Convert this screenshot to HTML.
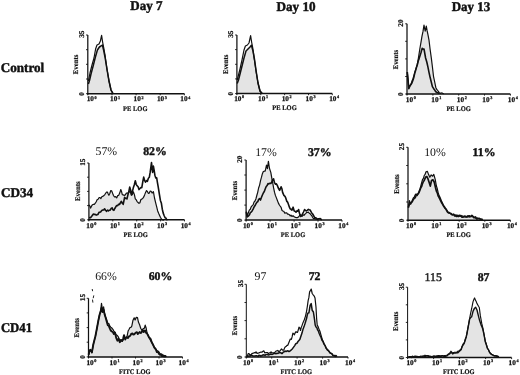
<!DOCTYPE html>
<html><head><meta charset="utf-8"><title>Flow cytometry</title>
<style>
html,body{margin:0;padding:0;background:#fff;}
body{width:520px;height:375px;overflow:hidden;font-family:"Liberation Serif",serif;}
svg{display:block;filter:blur(0.35px);}
text{fill:#111;text-rendering:geometricPrecision;}
</style></head><body>
<svg width="520" height="375" viewBox="0 0 520 375">
<rect width="520" height="375" fill="#fff"/>
<path d="M88.4 84.0 L89.5 80.5 L91.0 74.0 L93.4 65.0 L95.4 57.0 L97.4 50.0 L99.4 47.0 L101.0 46.0 L102.4 45.0 L103.6 50.0 L105.0 57.0 L107.0 69.5 L109.0 81.0 L111.0 90.0 L113.0 93.6 L113.0 93.7 L88.4 93.7Z" fill="#e4e4e4" stroke="none"/>
<path d="M88.4 84.0 L89.5 80.5 L91.0 74.0 L93.4 65.0 L95.4 57.0 L97.4 50.0 L99.4 47.0 L101.0 46.0 L102.4 45.0 L103.6 50.0 L105.0 57.0 L107.0 69.5 L109.0 81.0 L111.0 90.0 L113.0 93.6" fill="none" stroke="#111" stroke-width="1.5" stroke-linejoin="round"/>
<path d="M88.4 81.0 L90.0 73.0 L92.0 65.0 L94.0 58.0 L95.6 49.0 L97.0 45.0 L99.0 44.0 L100.4 41.0 L101.6 35.4 L102.6 42.0 L103.6 47.0 L105.0 55.0 L107.0 69.0 L109.0 81.0 L111.0 90.0 L113.0 93.6" fill="none" stroke="#111" stroke-width="1.2" stroke-linejoin="round"/>
<path d="M87.8 35 L87.8 94.4" fill="none" stroke="#111" stroke-width="1.25"/>
<path d="M87.2 93.7 L184.4 93.7" fill="none" stroke="#111" stroke-width="1.5"/>
<path d="M86.0 93.7 L87.8 93.7" stroke="#111" stroke-width="0.9"/>
<path d="M86.0 79.0 L87.8 79.0" stroke="#111" stroke-width="0.9"/>
<path d="M86.0 64.3 L87.8 64.3" stroke="#111" stroke-width="0.9"/>
<path d="M86.0 49.7 L87.8 49.7" stroke="#111" stroke-width="0.9"/>
<path d="M86.0 35.0 L87.8 35.0" stroke="#111" stroke-width="0.9"/>
<path d="M87.8 93.7 L87.8 95.3" stroke="#111" stroke-width="0.9"/>
<text x="86.7" y="101.4" font-size="7.3" font-weight="bold" text-anchor="start" font-family="'Liberation Serif', serif" stroke="#111" stroke-width="0.25">10<tspan font-size="4.2" dy="-2.9" dx="0.6">0</tspan></text>
<path d="M112.0 93.7 L112.0 95.3" stroke="#111" stroke-width="0.9"/>
<text x="110.1" y="101.4" font-size="7.3" font-weight="bold" text-anchor="start" font-family="'Liberation Serif', serif" stroke="#111" stroke-width="0.25">10<tspan font-size="4.2" dy="-2.9" dx="0.6">1</tspan></text>
<path d="M136.1 93.7 L136.1 95.3" stroke="#111" stroke-width="0.9"/>
<text x="133.5" y="101.4" font-size="7.3" font-weight="bold" text-anchor="start" font-family="'Liberation Serif', serif" stroke="#111" stroke-width="0.25">10<tspan font-size="4.2" dy="-2.9" dx="0.6">2</tspan></text>
<path d="M160.2 93.7 L160.2 95.3" stroke="#111" stroke-width="0.9"/>
<text x="156.9" y="101.4" font-size="7.3" font-weight="bold" text-anchor="start" font-family="'Liberation Serif', serif" stroke="#111" stroke-width="0.25">10<tspan font-size="4.2" dy="-2.9" dx="0.6">3</tspan></text>
<path d="M184.4 93.7 L184.4 95.3" stroke="#111" stroke-width="0.9"/>
<text x="180.3" y="101.4" font-size="7.3" font-weight="bold" text-anchor="start" font-family="'Liberation Serif', serif" stroke="#111" stroke-width="0.25">10<tspan font-size="4.2" dy="-2.9" dx="0.6">4</tspan></text>
<text x="135.3" y="110.5" font-size="7.0" font-weight="bold" text-anchor="middle" font-family="'Liberation Serif', serif" textLength="24.4" lengthAdjust="spacingAndGlyphs" stroke="#111" stroke-width="0.2">PE LOG</text>
<text x="78.5" y="64.4" font-size="7.2" font-weight="bold" text-anchor="middle" font-family="'Liberation Serif', serif" transform="rotate(-90 78.5 64.4)" textLength="19.5" lengthAdjust="spacingAndGlyphs" stroke="#111" stroke-width="0.2">Events</text>
<text x="84.0" y="34.2" font-size="7.3" font-weight="bold" text-anchor="middle" font-family="'Liberation Serif', serif" transform="rotate(-90 84.0 34.2)" stroke="#111" stroke-width="0.2">35</text>
<text x="84.0" y="93.8" font-size="7.3" font-weight="bold" text-anchor="middle" font-family="'Liberation Serif', serif" transform="rotate(-90 84.0 93.8)" stroke="#111" stroke-width="0.2">0</text>
<path d="M237.2 83.5 L238.5 80.0 L241.0 70.0 L244.0 58.0 L246.0 51.0 L248.0 49.0 L250.0 47.0 L251.4 45.2 L253.0 51.0 L254.6 60.0 L256.2 71.5 L258.0 83.0 L260.0 91.0 L262.2 93.6 L262.2 93.6 L237.2 93.6Z" fill="#e4e4e4" stroke="none"/>
<path d="M237.2 83.5 L238.5 80.0 L241.0 70.0 L244.0 58.0 L246.0 51.0 L248.0 49.0 L250.0 47.0 L251.4 45.2 L253.0 51.0 L254.6 60.0 L256.2 71.5 L258.0 83.0 L260.0 91.0 L262.2 93.6" fill="none" stroke="#111" stroke-width="1.5" stroke-linejoin="round"/>
<path d="M237.2 80.0 L238.5 75.0 L240.0 69.0 L242.0 60.0 L244.0 50.0 L245.4 46.0 L247.4 45.0 L249.0 43.0 L250.6 35.6 L251.6 42.0 L252.6 47.0 L254.0 57.0 L256.0 71.0 L258.0 83.0 L260.0 91.0 L262.2 93.6" fill="none" stroke="#111" stroke-width="1.2" stroke-linejoin="round"/>
<path d="M236.9 35 L236.9 94.3" fill="none" stroke="#111" stroke-width="1.25"/>
<path d="M236.3 93.6 L332.3 93.6" fill="none" stroke="#111" stroke-width="1.5"/>
<path d="M235.1 93.6 L236.9 93.6" stroke="#111" stroke-width="0.9"/>
<path d="M235.1 78.9 L236.9 78.9" stroke="#111" stroke-width="0.9"/>
<path d="M235.1 64.3 L236.9 64.3" stroke="#111" stroke-width="0.9"/>
<path d="M235.1 49.6 L236.9 49.6" stroke="#111" stroke-width="0.9"/>
<path d="M235.1 35.0 L236.9 35.0" stroke="#111" stroke-width="0.9"/>
<path d="M236.9 93.6 L236.9 95.19999999999999" stroke="#111" stroke-width="0.9"/>
<text x="234.2" y="101.3" font-size="7.3" font-weight="bold" text-anchor="start" font-family="'Liberation Serif', serif" stroke="#111" stroke-width="0.25">10<tspan font-size="4.2" dy="-2.9" dx="0.6">0</tspan></text>
<path d="M260.8 93.6 L260.8 95.19999999999999" stroke="#111" stroke-width="0.9"/>
<text x="258.0" y="101.3" font-size="7.3" font-weight="bold" text-anchor="start" font-family="'Liberation Serif', serif" stroke="#111" stroke-width="0.25">10<tspan font-size="4.2" dy="-2.9" dx="0.6">1</tspan></text>
<path d="M284.6 93.6 L284.6 95.19999999999999" stroke="#111" stroke-width="0.9"/>
<text x="281.7" y="101.3" font-size="7.3" font-weight="bold" text-anchor="start" font-family="'Liberation Serif', serif" stroke="#111" stroke-width="0.25">10<tspan font-size="4.2" dy="-2.9" dx="0.6">2</tspan></text>
<path d="M308.5 93.6 L308.5 95.19999999999999" stroke="#111" stroke-width="0.9"/>
<text x="305.5" y="101.3" font-size="7.3" font-weight="bold" text-anchor="start" font-family="'Liberation Serif', serif" stroke="#111" stroke-width="0.25">10<tspan font-size="4.2" dy="-2.9" dx="0.6">3</tspan></text>
<path d="M332.3 93.6 L332.3 95.19999999999999" stroke="#111" stroke-width="0.9"/>
<text x="329.2" y="101.3" font-size="7.3" font-weight="bold" text-anchor="start" font-family="'Liberation Serif', serif" stroke="#111" stroke-width="0.25">10<tspan font-size="4.2" dy="-2.9" dx="0.6">4</tspan></text>
<text x="284.5" y="110.4" font-size="7.0" font-weight="bold" text-anchor="middle" font-family="'Liberation Serif', serif" textLength="24.4" lengthAdjust="spacingAndGlyphs" stroke="#111" stroke-width="0.2">PE LOG</text>
<text x="227.6" y="64.3" font-size="7.2" font-weight="bold" text-anchor="middle" font-family="'Liberation Serif', serif" transform="rotate(-90 227.6 64.3)" textLength="19.5" lengthAdjust="spacingAndGlyphs" stroke="#111" stroke-width="0.2">Events</text>
<text x="233.1" y="34.2" font-size="7.3" font-weight="bold" text-anchor="middle" font-family="'Liberation Serif', serif" transform="rotate(-90 233.1 34.2)" stroke="#111" stroke-width="0.2">35</text>
<text x="233.1" y="93.7" font-size="7.3" font-weight="bold" text-anchor="middle" font-family="'Liberation Serif', serif" transform="rotate(-90 233.1 93.7)" stroke="#111" stroke-width="0.2">0</text>
<path d="M407.3 72.5 L408.1 79.9 L408.8 87.9 L409.8 86.3 L410.8 84.4 L412.0 81.1 L413.1 78.5 L414.0 75.2 L414.9 71.9 L415.9 68.9 L416.8 66.1 L417.7 62.5 L418.8 55.5 L419.9 48.5 L421.0 42.1 L422.0 36.1 L423.0 31.4 L424.0 25.1 L425.2 31.1 L426.3 26.2 L427.1 30.7 L427.9 34.3 L429.0 40.1 L430.1 49.2 L431.3 57.9 L432.4 66.8 L433.5 76.3 L434.6 81.5 L435.8 87.4 L436.6 89.2 L437.5 90.3 L438.4 91.3 L439.2 92.8 L440.1 93.4 L441.0 92.9 L442.0 93.0 L442.9 93.4 L443.8 93.7 L443.8 94.0 L407.3 94.0Z" fill="#e4e4e4" stroke="none"/>
<path d="M407.3 72.5 L408.1 79.9 L408.8 87.9 L409.8 86.3 L410.8 84.4 L412.0 81.1 L413.1 78.5 L414.0 75.2 L414.9 71.9 L415.9 68.9 L416.8 66.1 L417.7 62.5 L418.8 55.5 L419.9 48.5 L421.0 42.1 L422.0 36.1 L423.0 31.4 L424.0 25.1 L425.2 31.1 L426.3 26.2 L427.1 30.7 L427.9 34.3 L429.0 40.1 L430.1 49.2 L431.3 57.9 L432.4 66.8 L433.5 76.3 L434.6 81.5 L435.8 87.4 L436.6 89.2 L437.5 90.3 L438.4 91.3 L439.2 92.8 L440.1 93.4 L441.0 92.9 L442.0 93.0 L442.9 93.4 L443.8 93.7" fill="none" stroke="#111" stroke-width="1.2" stroke-linejoin="round"/>
<path d="M407.3 72.0 L408.1 80.9 L408.8 88.8 L409.8 86.1 L410.8 84.8 L412.0 82.8 L413.1 79.7 L414.0 76.7 L414.8 73.1 L415.6 70.4 L416.5 67.3 L417.4 64.5 L418.2 61.0 L419.1 58.6 L420.0 55.7 L421.1 52.2 L422.2 48.2 L423.1 49.1 L424.0 49.0 L424.8 53.5 L425.6 58.0 L426.8 62.0 L427.9 66.9 L429.0 72.3 L430.1 77.3 L431.2 81.7 L432.4 86.6 L433.2 87.9 L434.1 89.3 L434.9 90.3 L435.8 91.8 L436.9 92.4 L437.9 92.7 L439.0 93.7" fill="none" stroke="#111" stroke-width="1.6" stroke-linejoin="round"/>
<path d="M407.0 23.8 L407.0 94.7" fill="none" stroke="#111" stroke-width="1.25"/>
<path d="M406.4 94.0 L510.4 94.0" fill="none" stroke="#111" stroke-width="1.5"/>
<path d="M405.2 94.0 L407.0 94.0" stroke="#111" stroke-width="0.9"/>
<path d="M405.2 76.5 L407.0 76.5" stroke="#111" stroke-width="0.9"/>
<path d="M405.2 58.9 L407.0 58.9" stroke="#111" stroke-width="0.9"/>
<path d="M405.2 41.3 L407.0 41.3" stroke="#111" stroke-width="0.9"/>
<path d="M405.2 23.8 L407.0 23.8" stroke="#111" stroke-width="0.9"/>
<path d="M407.0 94.0 L407.0 95.6" stroke="#111" stroke-width="0.9"/>
<text x="405.8" y="101.7" font-size="7.3" font-weight="bold" text-anchor="start" font-family="'Liberation Serif', serif" stroke="#111" stroke-width="0.25">10<tspan font-size="4.2" dy="-2.9" dx="0.6">0</tspan></text>
<path d="M432.9 94.0 L432.9 95.6" stroke="#111" stroke-width="0.9"/>
<text x="431.3" y="101.7" font-size="7.3" font-weight="bold" text-anchor="start" font-family="'Liberation Serif', serif" stroke="#111" stroke-width="0.25">10<tspan font-size="4.2" dy="-2.9" dx="0.6">1</tspan></text>
<path d="M458.7 94.0 L458.7 95.6" stroke="#111" stroke-width="0.9"/>
<text x="456.8" y="101.7" font-size="7.3" font-weight="bold" text-anchor="start" font-family="'Liberation Serif', serif" stroke="#111" stroke-width="0.25">10<tspan font-size="4.2" dy="-2.9" dx="0.6">2</tspan></text>
<path d="M484.5 94.0 L484.5 95.6" stroke="#111" stroke-width="0.9"/>
<text x="482.3" y="101.7" font-size="7.3" font-weight="bold" text-anchor="start" font-family="'Liberation Serif', serif" stroke="#111" stroke-width="0.25">10<tspan font-size="4.2" dy="-2.9" dx="0.6">3</tspan></text>
<path d="M510.4 94.0 L510.4 95.6" stroke="#111" stroke-width="0.9"/>
<text x="507.8" y="101.7" font-size="7.3" font-weight="bold" text-anchor="start" font-family="'Liberation Serif', serif" stroke="#111" stroke-width="0.25">10<tspan font-size="4.2" dy="-2.9" dx="0.6">4</tspan></text>
<text x="458.6" y="110.8" font-size="7.0" font-weight="bold" text-anchor="middle" font-family="'Liberation Serif', serif" textLength="24.4" lengthAdjust="spacingAndGlyphs" stroke="#111" stroke-width="0.2">PE LOG</text>
<text x="397.7" y="59.6" font-size="7.2" font-weight="bold" text-anchor="middle" font-family="'Liberation Serif', serif" transform="rotate(-90 397.7 59.6)" textLength="19.5" lengthAdjust="spacingAndGlyphs" stroke="#111" stroke-width="0.2">Events</text>
<text x="403.2" y="23.0" font-size="7.3" font-weight="bold" text-anchor="middle" font-family="'Liberation Serif', serif" transform="rotate(-90 403.2 23.0)" stroke="#111" stroke-width="0.2">20</text>
<text x="403.2" y="94.1" font-size="7.3" font-weight="bold" text-anchor="middle" font-family="'Liberation Serif', serif" transform="rotate(-90 403.2 94.1)" stroke="#111" stroke-width="0.2">0</text>
<path d="M89.0 206.0 L89.1 205.2 L89.8 205.9 L90.6 208.1 L91.5 206.2 L92.5 204.7 L93.4 204.3 L94.3 204.4 L95.3 203.2 L96.2 201.8 L97.1 199.8 L98.1 199.2 L99.0 197.7 L100.0 197.6 L100.9 198.5 L101.8 196.8 L102.7 196.4 L103.6 195.8 L104.6 194.8 L105.5 193.5 L106.5 192.1 L107.4 192.1 L108.2 194.0 L108.9 195.3 L109.8 193.5 L110.7 190.7 L111.7 190.9 L112.6 193.3 L113.5 195.5 L114.5 197.0 L115.6 196.7 L116.7 197.9 L117.7 195.6 L118.6 195.5 L119.7 193.1 L120.8 189.5 L121.5 191.4 L122.3 194.6 L123.2 194.8 L124.2 195.4 L125.3 194.9 L126.4 193.2 L127.8 193.1 L128.8 192.5 L129.7 191.3 L130.6 192.5 L131.5 194.9 L132.4 194.4 L133.4 191.9 L134.4 194.6 L135.3 198.9 L136.2 199.7 L137.1 201.6 L138.1 202.5 L139.0 203.4 L139.9 202.7 L140.9 199.5 L141.8 199.1 L142.7 198.5 L143.6 197.2 L144.6 194.9 L145.6 192.4 L146.5 190.6 L147.4 191.4 L148.3 193.3 L149.2 193.2 L150.2 191.0 L151.1 191.3 L152.1 193.0 L153.4 191.6 L154.5 198.0 L155.8 203.3 L156.7 206.9 L157.6 210.7 L158.6 213.2 L159.5 215.2 L160.4 217.3 L161.4 219.0 L162.3 219.8 L163.2 220.1 L164.0 219.8 L164.0 219.8 L89.0 219.8Z" fill="#e4e4e4" stroke="none"/>
<path d="M89.0 206.0 L89.1 205.2 L89.8 205.9 L90.6 208.1 L91.5 206.2 L92.5 204.7 L93.4 204.3 L94.3 204.4 L95.3 203.2 L96.2 201.8 L97.1 199.8 L98.1 199.2 L99.0 197.7 L100.0 197.6 L100.9 198.5 L101.8 196.8 L102.7 196.4 L103.6 195.8 L104.6 194.8 L105.5 193.5 L106.5 192.1 L107.4 192.1 L108.2 194.0 L108.9 195.3 L109.8 193.5 L110.7 190.7 L111.7 190.9 L112.6 193.3 L113.5 195.5 L114.5 197.0 L115.6 196.7 L116.7 197.9 L117.7 195.6 L118.6 195.5 L119.7 193.1 L120.8 189.5 L121.5 191.4 L122.3 194.6 L123.2 194.8 L124.2 195.4 L125.3 194.9 L126.4 193.2 L127.8 193.1 L128.8 192.5 L129.7 191.3 L130.6 192.5 L131.5 194.9 L132.4 194.4 L133.4 191.9 L134.4 194.6 L135.3 198.9 L136.2 199.7 L137.1 201.6 L138.1 202.5 L139.0 203.4 L139.9 202.7 L140.9 199.5 L141.8 199.1 L142.7 198.5 L143.6 197.2 L144.6 194.9 L145.6 192.4 L146.5 190.6 L147.4 191.4 L148.3 193.3 L149.2 193.2 L150.2 191.0 L151.1 191.3 L152.1 193.0 L153.4 191.6 L154.5 198.0 L155.8 203.3 L156.7 206.9 L157.6 210.7 L158.6 213.2 L159.5 215.2 L160.4 217.3 L161.4 219.0 L162.3 219.8 L163.2 220.1 L164.0 219.8" fill="none" stroke="#111" stroke-width="1.2" stroke-linejoin="round"/>
<path d="M89.0 217.5 L89.8 217.8 L90.7 217.6 L91.5 216.6 L92.4 215.3 L93.4 214.0 L94.3 214.4 L95.2 214.4 L96.2 215.1 L97.1 214.6 L98.0 214.4 L99.0 212.3 L99.9 212.2 L100.8 211.8 L101.8 210.4 L102.7 210.0 L103.7 210.0 L104.6 208.8 L105.5 210.2 L106.5 211.3 L107.4 210.2 L108.4 211.0 L109.3 210.2 L110.2 210.2 L111.2 208.4 L112.1 207.8 L113.0 209.8 L113.9 210.3 L114.8 208.5 L115.8 206.8 L116.7 205.6 L117.7 205.6 L118.6 204.2 L119.5 204.5 L120.5 202.7 L121.4 201.3 L122.3 203.3 L123.2 204.3 L124.6 197.4 L125.4 198.5 L126.2 198.2 L127.0 198.9 L127.8 195.3 L128.8 191.6 L129.7 187.1 L130.6 189.9 L131.5 195.0 L132.4 191.6 L133.4 187.4 L134.4 184.5 L135.3 180.7 L136.2 184.3 L137.1 185.8 L138.1 186.8 L139.0 189.6 L139.9 188.5 L140.9 187.6 L141.8 187.6 L142.8 181.7 L143.7 177.1 L144.6 180.5 L145.5 182.2 L146.4 180.5 L147.4 181.3 L148.4 178.2 L149.3 177.3 L150.2 172.2 L151.5 162.6 L152.6 172.5 L153.4 166.1 L154.2 170.6 L154.9 175.2 L155.8 178.0 L156.7 177.9 L157.4 182.3 L158.2 186.9 L159.5 195.0 L160.4 200.4 L161.4 203.3 L162.3 209.2 L163.2 213.1 L164.1 215.5 L165.1 217.8 L165.9 218.1 L166.7 219.7 L167.5 219.7" fill="none" stroke="#111" stroke-width="1.6" stroke-linejoin="round"/>
<path d="M88.9 163 L88.9 220.5" fill="none" stroke="#111" stroke-width="1.25"/>
<path d="M88.30000000000001 219.8 L184.5 219.8" fill="none" stroke="#111" stroke-width="1.5"/>
<path d="M87.10000000000001 219.8 L88.9 219.8" stroke="#111" stroke-width="0.9"/>
<path d="M87.10000000000001 205.6 L88.9 205.6" stroke="#111" stroke-width="0.9"/>
<path d="M87.10000000000001 191.4 L88.9 191.4" stroke="#111" stroke-width="0.9"/>
<path d="M87.10000000000001 177.2 L88.9 177.2" stroke="#111" stroke-width="0.9"/>
<path d="M87.10000000000001 163.0 L88.9 163.0" stroke="#111" stroke-width="0.9"/>
<path d="M88.9 219.8 L88.9 221.4" stroke="#111" stroke-width="0.9"/>
<text x="86.3" y="227.5" font-size="7.3" font-weight="bold" text-anchor="start" font-family="'Liberation Serif', serif" stroke="#111" stroke-width="0.25">10<tspan font-size="4.2" dy="-2.9" dx="0.6">0</tspan></text>
<path d="M112.8 219.8 L112.8 221.4" stroke="#111" stroke-width="0.9"/>
<text x="109.9" y="227.5" font-size="7.3" font-weight="bold" text-anchor="start" font-family="'Liberation Serif', serif" stroke="#111" stroke-width="0.25">10<tspan font-size="4.2" dy="-2.9" dx="0.6">1</tspan></text>
<path d="M136.7 219.8 L136.7 221.4" stroke="#111" stroke-width="0.9"/>
<text x="133.5" y="227.5" font-size="7.3" font-weight="bold" text-anchor="start" font-family="'Liberation Serif', serif" stroke="#111" stroke-width="0.25">10<tspan font-size="4.2" dy="-2.9" dx="0.6">2</tspan></text>
<path d="M160.6 219.8 L160.6 221.4" stroke="#111" stroke-width="0.9"/>
<text x="157.1" y="227.5" font-size="7.3" font-weight="bold" text-anchor="start" font-family="'Liberation Serif', serif" stroke="#111" stroke-width="0.25">10<tspan font-size="4.2" dy="-2.9" dx="0.6">3</tspan></text>
<path d="M184.5 219.8 L184.5 221.4" stroke="#111" stroke-width="0.9"/>
<text x="180.7" y="227.5" font-size="7.3" font-weight="bold" text-anchor="start" font-family="'Liberation Serif', serif" stroke="#111" stroke-width="0.25">10<tspan font-size="4.2" dy="-2.9" dx="0.6">4</tspan></text>
<text x="135.7" y="236.6" font-size="7.0" font-weight="bold" text-anchor="middle" font-family="'Liberation Serif', serif" textLength="24.4" lengthAdjust="spacingAndGlyphs" stroke="#111" stroke-width="0.2">PE LOG</text>
<text x="79.6" y="191.2" font-size="7.2" font-weight="bold" text-anchor="middle" font-family="'Liberation Serif', serif" transform="rotate(-90 79.6 191.2)" textLength="19.5" lengthAdjust="spacingAndGlyphs" stroke="#111" stroke-width="0.2">Events</text>
<text x="85.1" y="162.2" font-size="7.3" font-weight="bold" text-anchor="middle" font-family="'Liberation Serif', serif" transform="rotate(-90 85.1 162.2)" stroke="#111" stroke-width="0.2">15</text>
<text x="85.1" y="219.9" font-size="7.3" font-weight="bold" text-anchor="middle" font-family="'Liberation Serif', serif" transform="rotate(-90 85.1 219.9)" stroke="#111" stroke-width="0.2">0</text>
<text x="106.3" y="155.3" font-size="11.8" font-weight="normal" text-anchor="middle" font-family="'Liberation Serif', serif" fill="#4a4a4a">57%</text>
<text x="155" y="155.3" font-size="11.8" font-weight="bold" text-anchor="middle" font-family="'Liberation Serif', serif" stroke="#111" stroke-width="0.4">82%</text>
<path d="M246.3 211.5 L247.2 216.1 L248.3 212.8 L249.3 210.1 L250.3 209.2 L251.2 206.8 L252.2 205.6 L253.1 204.9 L254.0 202.1 L255.0 201.0 L255.9 198.9 L256.8 195.5 L257.7 192.3 L258.6 188.0 L259.6 185.1 L260.6 180.4 L261.5 177.2 L262.4 173.7 L263.3 171.6 L264.2 171.2 L265.2 171.2 L266.5 165.2 L267.4 168.7 L268.4 161.3 L269.5 168.5 L270.8 172.4 L271.8 178.1 L272.7 182.9 L273.6 187.9 L274.5 192.2 L275.4 195.4 L276.4 197.9 L277.4 200.5 L278.3 202.9 L279.2 204.6 L280.1 206.0 L281.1 207.4 L282.0 210.4 L282.9 211.0 L283.9 211.4 L284.8 213.2 L285.8 212.9 L286.7 212.9 L287.6 214.2 L288.5 214.2 L289.4 214.7 L290.2 215.9 L291.0 215.2 L291.9 216.4 L293.0 215.7 L294.2 216.8 L295.4 217.4 L296.5 217.6 L297.6 217.6 L298.8 216.7 L299.7 215.3 L300.6 214.7 L301.5 215.7 L302.3 216.2 L303.1 214.8 L304.0 215.3 L304.9 214.2 L305.8 213.4 L306.6 212.5 L307.5 212.5 L308.4 212.1 L309.2 213.2 L310.1 213.7 L311.0 214.9 L311.9 215.9 L312.7 217.5 L313.5 218.7 L314.4 218.5 L315.5 218.9 L316.7 219.4 L316.7 220.1 L246.3 220.1Z" fill="#e4e4e4" stroke="none"/>
<path d="M246.3 211.5 L247.2 216.1 L248.3 212.8 L249.3 210.1 L250.3 209.2 L251.2 206.8 L252.2 205.6 L253.1 204.9 L254.0 202.1 L255.0 201.0 L255.9 198.9 L256.8 195.5 L257.7 192.3 L258.6 188.0 L259.6 185.1 L260.6 180.4 L261.5 177.2 L262.4 173.7 L263.3 171.6 L264.2 171.2 L265.2 171.2 L266.5 165.2 L267.4 168.7 L268.4 161.3 L269.5 168.5 L270.8 172.4 L271.8 178.1 L272.7 182.9 L273.6 187.9 L274.5 192.2 L275.4 195.4 L276.4 197.9 L277.4 200.5 L278.3 202.9 L279.2 204.6 L280.1 206.0 L281.1 207.4 L282.0 210.4 L282.9 211.0 L283.9 211.4 L284.8 213.2 L285.8 212.9 L286.7 212.9 L287.6 214.2 L288.5 214.2 L289.4 214.7 L290.2 215.9 L291.0 215.2 L291.9 216.4 L293.0 215.7 L294.2 216.8 L295.4 217.4 L296.5 217.6 L297.6 217.6 L298.8 216.7 L299.7 215.3 L300.6 214.7 L301.5 215.7 L302.3 216.2 L303.1 214.8 L304.0 215.3 L304.9 214.2 L305.8 213.4 L306.6 212.5 L307.5 212.5 L308.4 212.1 L309.2 213.2 L310.1 213.7 L311.0 214.9 L311.9 215.9 L312.7 217.5 L313.5 218.7 L314.4 218.5 L315.5 218.9 L316.7 219.4" fill="none" stroke="#111" stroke-width="1.2" stroke-linejoin="round"/>
<path d="M246.3 212.0 L247.2 216.9 L248.6 215.8 L249.5 214.7 L250.3 212.7 L251.2 212.1 L252.1 210.9 L253.1 209.1 L254.0 207.1 L254.9 205.8 L255.9 203.9 L256.8 202.4 L257.8 201.6 L258.7 199.3 L259.6 198.5 L260.5 200.1 L261.4 197.6 L262.4 195.0 L263.4 192.9 L264.3 191.5 L265.2 189.0 L266.1 186.8 L267.1 185.6 L268.0 183.6 L268.9 183.9 L269.9 183.3 L270.8 183.4 L271.7 182.2 L272.6 179.9 L273.6 178.9 L274.5 182.7 L275.4 184.2 L276.4 183.8 L277.4 185.6 L278.3 188.0 L279.6 190.4 L280.4 188.7 L281.1 186.7 L281.9 188.7 L282.6 192.4 L283.9 195.3 L285.0 196.3 L285.9 198.4 L286.7 201.1 L287.6 202.1 L288.5 204.6 L289.4 207.2 L290.2 208.8 L291.0 209.3 L291.9 210.1 L293.1 207.2 L294.2 211.0 L295.1 211.3 L296.0 212.2 L296.9 210.9 L297.7 211.2 L298.6 209.5 L299.4 213.1 L300.6 216.4 L301.5 216.1 L302.3 214.4 L303.5 212.0 L304.6 209.6 L305.8 210.8 L306.6 210.9 L307.5 210.2 L308.4 209.4 L309.2 209.8 L310.1 210.0 L311.0 211.6 L311.9 213.2 L312.7 214.0 L313.5 215.5 L314.4 217.2 L315.3 217.8 L316.2 218.1 L317.4 219.1 L318.5 218.9 L319.4 218.8 L320.2 218.5 L321.0 219.4 L321.9 219.6" fill="none" stroke="#111" stroke-width="1.6" stroke-linejoin="round"/>
<path d="M246.1 160 L246.1 220.79999999999998" fill="none" stroke="#111" stroke-width="1.25"/>
<path d="M245.5 220.1 L342 220.1" fill="none" stroke="#111" stroke-width="1.5"/>
<path d="M244.29999999999998 220.1 L246.1 220.1" stroke="#111" stroke-width="0.9"/>
<path d="M244.29999999999998 205.1 L246.1 205.1" stroke="#111" stroke-width="0.9"/>
<path d="M244.29999999999998 190.1 L246.1 190.1" stroke="#111" stroke-width="0.9"/>
<path d="M244.29999999999998 175.0 L246.1 175.0" stroke="#111" stroke-width="0.9"/>
<path d="M244.29999999999998 160.0 L246.1 160.0" stroke="#111" stroke-width="0.9"/>
<path d="M246.1 220.1 L246.1 221.7" stroke="#111" stroke-width="0.9"/>
<text x="242.9" y="227.8" font-size="7.3" font-weight="bold" text-anchor="start" font-family="'Liberation Serif', serif" stroke="#111" stroke-width="0.25">10<tspan font-size="4.2" dy="-2.9" dx="0.6">0</tspan></text>
<path d="M270.1 220.1 L270.1 221.7" stroke="#111" stroke-width="0.9"/>
<text x="266.8" y="227.8" font-size="7.3" font-weight="bold" text-anchor="start" font-family="'Liberation Serif', serif" stroke="#111" stroke-width="0.25">10<tspan font-size="4.2" dy="-2.9" dx="0.6">1</tspan></text>
<path d="M294.1 220.1 L294.1 221.7" stroke="#111" stroke-width="0.9"/>
<text x="290.6" y="227.8" font-size="7.3" font-weight="bold" text-anchor="start" font-family="'Liberation Serif', serif" stroke="#111" stroke-width="0.25">10<tspan font-size="4.2" dy="-2.9" dx="0.6">2</tspan></text>
<path d="M318.0 220.1 L318.0 221.7" stroke="#111" stroke-width="0.9"/>
<text x="314.5" y="227.8" font-size="7.3" font-weight="bold" text-anchor="start" font-family="'Liberation Serif', serif" stroke="#111" stroke-width="0.25">10<tspan font-size="4.2" dy="-2.9" dx="0.6">3</tspan></text>
<path d="M342.0 220.1 L342.0 221.7" stroke="#111" stroke-width="0.9"/>
<text x="338.3" y="227.8" font-size="7.3" font-weight="bold" text-anchor="start" font-family="'Liberation Serif', serif" stroke="#111" stroke-width="0.25">10<tspan font-size="4.2" dy="-2.9" dx="0.6">4</tspan></text>
<text x="293.0" y="236.9" font-size="7.0" font-weight="bold" text-anchor="middle" font-family="'Liberation Serif', serif" textLength="24.4" lengthAdjust="spacingAndGlyphs" stroke="#111" stroke-width="0.2">PE LOG</text>
<text x="236.8" y="190.5" font-size="7.2" font-weight="bold" text-anchor="middle" font-family="'Liberation Serif', serif" transform="rotate(-90 236.8 190.5)" textLength="19.5" lengthAdjust="spacingAndGlyphs" stroke="#111" stroke-width="0.2">Events</text>
<text x="242.3" y="159.2" font-size="7.3" font-weight="bold" text-anchor="middle" font-family="'Liberation Serif', serif" transform="rotate(-90 242.3 159.2)" stroke="#111" stroke-width="0.2">20</text>
<text x="242.3" y="220.2" font-size="7.3" font-weight="bold" text-anchor="middle" font-family="'Liberation Serif', serif" transform="rotate(-90 242.3 220.2)" stroke="#111" stroke-width="0.2">0</text>
<text x="266" y="155.5" font-size="11.8" font-weight="normal" text-anchor="middle" font-family="'Liberation Serif', serif" fill="#4a4a4a">17%</text>
<text x="319.7" y="155.5" font-size="11.8" font-weight="bold" text-anchor="middle" font-family="'Liberation Serif', serif" stroke="#111" stroke-width="0.4">37%</text>
<path d="M408.3 206.8 L409.5 200.7 L410.7 204.3 L411.6 202.3 L412.5 199.7 L413.4 197.8 L414.2 197.2 L415.0 195.2 L415.9 194.0 L417.3 195.6 L418.2 193.5 L419.1 191.2 L420.0 188.9 L420.8 185.8 L421.6 182.9 L422.5 179.7 L423.4 178.4 L424.3 175.3 L425.1 174.4 L426.0 171.8 L427.4 171.4 L428.6 174.6 L429.8 177.2 L431.2 174.9 L432.6 176.2 L433.8 174.4 L435.2 179.4 L436.4 186.0 L437.2 188.4 L438.1 192.4 L439.0 195.4 L439.9 197.1 L440.8 199.3 L441.6 201.4 L442.5 203.1 L443.3 205.2 L444.4 206.3 L445.4 208.6 L446.5 209.5 L447.7 211.8 L448.6 213.1 L449.4 213.0 L450.3 213.6 L451.2 214.2 L452.0 214.3 L452.9 214.5 L453.8 214.2 L454.6 215.8 L455.5 216.1 L456.4 216.7 L457.2 216.4 L458.1 216.2 L459.1 216.0 L460.0 216.4 L461.0 216.1 L462.0 215.7 L463.0 216.2 L464.0 216.9 L465.0 216.9 L466.1 217.2 L467.1 216.5 L468.1 215.8 L469.0 217.2 L470.0 216.8 L470.9 216.2 L471.9 215.4 L472.9 216.2 L474.0 216.9 L474.8 217.9 L475.5 217.7 L476.4 218.3 L477.3 217.8 L478.2 218.8 L479.1 218.4 L480.0 218.7 L480.9 219.1 L481.8 219.9 L482.7 220.0 L482.7 220.2 L408.3 220.2Z" fill="#e4e4e4" stroke="none"/>
<path d="M408.3 206.8 L409.5 200.7 L410.7 204.3 L411.6 202.3 L412.5 199.7 L413.4 197.8 L414.2 197.2 L415.0 195.2 L415.9 194.0 L417.3 195.6 L418.2 193.5 L419.1 191.2 L420.0 188.9 L420.8 185.8 L421.6 182.9 L422.5 179.7 L423.4 178.4 L424.3 175.3 L425.1 174.4 L426.0 171.8 L427.4 171.4 L428.6 174.6 L429.8 177.2 L431.2 174.9 L432.6 176.2 L433.8 174.4 L435.2 179.4 L436.4 186.0 L437.2 188.4 L438.1 192.4 L439.0 195.4 L439.9 197.1 L440.8 199.3 L441.6 201.4 L442.5 203.1 L443.3 205.2 L444.4 206.3 L445.4 208.6 L446.5 209.5 L447.7 211.8 L448.6 213.1 L449.4 213.0 L450.3 213.6 L451.2 214.2 L452.0 214.3 L452.9 214.5 L453.8 214.2 L454.6 215.8 L455.5 216.1 L456.4 216.7 L457.2 216.4 L458.1 216.2 L459.1 216.0 L460.0 216.4 L461.0 216.1 L462.0 215.7 L463.0 216.2 L464.0 216.9 L465.0 216.9 L466.1 217.2 L467.1 216.5 L468.1 215.8 L469.0 217.2 L470.0 216.8 L470.9 216.2 L471.9 215.4 L472.9 216.2 L474.0 216.9 L474.8 217.9 L475.5 217.7 L476.4 218.3 L477.3 217.8 L478.2 218.8 L479.1 218.4 L480.0 218.7 L480.9 219.1 L481.8 219.9 L482.7 220.0" fill="none" stroke="#111" stroke-width="1.2" stroke-linejoin="round"/>
<path d="M408.3 207.7 L409.2 204.9 L410.1 203.4 L411.1 202.7 L412.1 201.9 L413.0 200.1 L413.8 198.9 L414.7 198.2 L415.6 196.7 L416.5 194.6 L417.4 194.5 L418.2 193.7 L419.0 192.5 L419.9 190.1 L420.8 187.7 L421.7 186.3 L422.5 183.6 L423.4 181.5 L424.2 180.4 L425.1 178.3 L426.0 176.8 L426.9 176.5 L428.1 179.2 L429.1 182.3 L430.3 186.1 L431.5 180.6 L432.9 179.8 L434.3 182.2 L435.5 187.5 L436.4 191.1 L437.3 192.8 L438.1 195.9 L439.0 197.3 L439.9 199.2 L440.7 200.9 L441.6 202.7 L442.5 204.0 L443.6 206.1 L444.7 207.8 L445.8 208.9 L446.8 210.8 L447.7 212.3 L448.5 212.3 L449.4 212.7 L450.3 213.4 L451.1 213.6 L452.0 214.8 L452.9 214.8 L453.8 214.4 L454.6 215.8 L455.5 215.2 L456.4 215.4 L457.2 215.3 L458.1 216.5 L459.1 215.3 L460.0 215.6 L461.0 215.7 L462.0 217.2 L462.8 217.2 L463.7 216.6 L464.5 216.2 L465.4 216.4 L466.2 216.6 L467.1 217.1 L467.9 216.0 L468.7 216.3 L469.5 215.8 L470.3 216.5 L471.1 216.6 L471.9 215.5 L472.7 216.1 L473.5 217.6 L474.5 217.5 L475.5 216.9 L476.2 218.3 L477.0 219.1 L478.1 218.5 L479.1 218.4 L480.0 219.0 L480.9 220.0 L481.8 219.2 L482.7 220.0" fill="none" stroke="#111" stroke-width="1.7" stroke-linejoin="round"/>
<path d="M408.0 147.3 L408.0 220.89999999999998" fill="none" stroke="#111" stroke-width="1.25"/>
<path d="M407.4 220.2 L510.4 220.2" fill="none" stroke="#111" stroke-width="1.5"/>
<path d="M406.2 220.2 L408.0 220.2" stroke="#111" stroke-width="0.9"/>
<path d="M406.2 202.0 L408.0 202.0" stroke="#111" stroke-width="0.9"/>
<path d="M406.2 183.8 L408.0 183.8" stroke="#111" stroke-width="0.9"/>
<path d="M406.2 165.5 L408.0 165.5" stroke="#111" stroke-width="0.9"/>
<path d="M406.2 147.3 L408.0 147.3" stroke="#111" stroke-width="0.9"/>
<path d="M408.0 220.2 L408.0 221.79999999999998" stroke="#111" stroke-width="0.9"/>
<text x="406.1" y="227.9" font-size="7.3" font-weight="bold" text-anchor="start" font-family="'Liberation Serif', serif" stroke="#111" stroke-width="0.25">10<tspan font-size="4.2" dy="-2.9" dx="0.6">0</tspan></text>
<path d="M433.6 220.2 L433.6 221.79999999999998" stroke="#111" stroke-width="0.9"/>
<text x="431.3" y="227.9" font-size="7.3" font-weight="bold" text-anchor="start" font-family="'Liberation Serif', serif" stroke="#111" stroke-width="0.25">10<tspan font-size="4.2" dy="-2.9" dx="0.6">1</tspan></text>
<path d="M459.2 220.2 L459.2 221.79999999999998" stroke="#111" stroke-width="0.9"/>
<text x="456.5" y="227.9" font-size="7.3" font-weight="bold" text-anchor="start" font-family="'Liberation Serif', serif" stroke="#111" stroke-width="0.25">10<tspan font-size="4.2" dy="-2.9" dx="0.6">2</tspan></text>
<path d="M484.8 220.2 L484.8 221.79999999999998" stroke="#111" stroke-width="0.9"/>
<text x="481.7" y="227.9" font-size="7.3" font-weight="bold" text-anchor="start" font-family="'Liberation Serif', serif" stroke="#111" stroke-width="0.25">10<tspan font-size="4.2" dy="-2.9" dx="0.6">3</tspan></text>
<path d="M510.4 220.2 L510.4 221.79999999999998" stroke="#111" stroke-width="0.9"/>
<text x="506.9" y="227.9" font-size="7.3" font-weight="bold" text-anchor="start" font-family="'Liberation Serif', serif" stroke="#111" stroke-width="0.25">10<tspan font-size="4.2" dy="-2.9" dx="0.6">4</tspan></text>
<text x="458.6" y="237.0" font-size="7.0" font-weight="bold" text-anchor="middle" font-family="'Liberation Serif', serif" textLength="24.4" lengthAdjust="spacingAndGlyphs" stroke="#111" stroke-width="0.2">PE LOG</text>
<text x="398.7" y="184.1" font-size="7.2" font-weight="bold" text-anchor="middle" font-family="'Liberation Serif', serif" transform="rotate(-90 398.7 184.1)" textLength="19.5" lengthAdjust="spacingAndGlyphs" stroke="#111" stroke-width="0.2">Events</text>
<text x="404.2" y="146.5" font-size="7.3" font-weight="bold" text-anchor="middle" font-family="'Liberation Serif', serif" transform="rotate(-90 404.2 146.5)" stroke="#111" stroke-width="0.2">25</text>
<text x="404.2" y="220.3" font-size="7.3" font-weight="bold" text-anchor="middle" font-family="'Liberation Serif', serif" transform="rotate(-90 404.2 220.3)" stroke="#111" stroke-width="0.2">0</text>
<text x="435" y="155.5" font-size="11.8" font-weight="normal" text-anchor="middle" font-family="'Liberation Serif', serif" fill="#4a4a4a">10%</text>
<text x="484" y="155.5" font-size="11.8" font-weight="bold" text-anchor="middle" font-family="'Liberation Serif', serif" stroke="#111" stroke-width="0.4">11%</text>
<path d="M88.6 354.8 L89.4 352.0 L90.3 349.6 L91.1 351.0 L91.9 352.7 L93.3 344.4 L94.3 340.7 L95.4 336.1 L96.4 331.4 L97.4 325.6 L98.2 321.5 L98.9 317.7 L99.7 314.1 L100.5 311.9 L101.5 303.4 L102.6 310.8 L103.6 306.8 L104.6 313.5 L105.4 316.8 L106.3 318.7 L107.7 323.1 L108.8 323.6 L109.8 326.0 L110.8 327.1 L111.8 328.0 L112.9 329.3 L113.9 331.1 L114.9 332.1 L115.9 334.5 L116.9 335.2 L117.7 336.0 L118.5 337.1 L119.2 339.5 L120.0 340.3 L121.0 339.9 L122.1 341.3 L123.1 339.8 L124.1 337.7 L125.5 338.5 L126.2 337.2 L127.0 336.6 L128.2 330.7 L129.1 329.2 L130.0 327.5 L130.9 327.3 L131.8 326.2 L133.0 320.2 L134.2 317.8 L135.1 320.0 L136.3 317.3 L137.5 317.6 L138.4 322.0 L139.6 324.8 L140.8 328.5 L142.0 330.2 L143.2 328.7 L144.4 328.1 L145.2 325.2 L146.2 328.3 L147.1 333.1 L148.5 336.5 L149.7 339.0 L150.8 340.9 L151.8 342.3 L152.9 344.4 L153.9 346.3 L154.9 347.9 L155.9 349.1 L156.9 350.5 L157.9 351.0 L159.0 352.0 L160.0 353.7 L161.0 353.9 L162.1 354.3 L163.1 355.9 L164.1 356.9 L165.2 355.8 L166.2 356.8 L166.2 356.9 L88.6 356.9Z" fill="#e4e4e4" stroke="none"/>
<path d="M88.6 354.8 L89.4 352.0 L90.3 349.6 L91.1 351.0 L91.9 352.7 L93.3 344.4 L94.3 340.7 L95.4 336.1 L96.4 331.4 L97.4 325.6 L98.2 321.5 L98.9 317.7 L99.7 314.1 L100.5 311.9 L101.5 303.4 L102.6 310.8 L103.6 306.8 L104.6 313.5 L105.4 316.8 L106.3 318.7 L107.7 323.1 L108.8 323.6 L109.8 326.0 L110.8 327.1 L111.8 328.0 L112.9 329.3 L113.9 331.1 L114.9 332.1 L115.9 334.5 L116.9 335.2 L117.7 336.0 L118.5 337.1 L119.2 339.5 L120.0 340.3 L121.0 339.9 L122.1 341.3 L123.1 339.8 L124.1 337.7 L125.5 338.5 L126.2 337.2 L127.0 336.6 L128.2 330.7 L129.1 329.2 L130.0 327.5 L130.9 327.3 L131.8 326.2 L133.0 320.2 L134.2 317.8 L135.1 320.0 L136.3 317.3 L137.5 317.6 L138.4 322.0 L139.6 324.8 L140.8 328.5 L142.0 330.2 L143.2 328.7 L144.4 328.1 L145.2 325.2 L146.2 328.3 L147.1 333.1 L148.5 336.5 L149.7 339.0 L150.8 340.9 L151.8 342.3 L152.9 344.4 L153.9 346.3 L154.9 347.9 L155.9 349.1 L156.9 350.5 L157.9 351.0 L159.0 352.0 L160.0 353.7 L161.0 353.9 L162.1 354.3 L163.1 355.9 L164.1 356.9 L165.2 355.8 L166.2 356.8" fill="none" stroke="#111" stroke-width="1.2" stroke-linejoin="round"/>
<path d="M88.6 354.8 L89.4 351.4 L90.3 349.8 L91.1 350.8 L91.9 352.4 L93.3 344.5 L94.3 340.4 L95.4 336.3 L96.4 331.0 L97.4 325.8 L98.2 321.3 L98.9 318.0 L99.7 314.3 L100.5 311.9 L101.5 307.9 L102.6 312.0 L103.6 309.9 L104.6 314.4 L105.4 316.7 L106.3 320.1 L107.7 325.1 L108.8 325.8 L109.8 328.3 L110.8 330.5 L111.8 331.5 L112.8 332.0 L113.9 334.0 L115.0 332.7 L116.2 337.9 L117.4 340.7 L118.6 338.8 L119.8 342.2 L121.0 339.9 L122.2 341.0 L123.1 338.8 L124.0 335.1 L125.2 339.6 L126.1 337.7 L127.0 337.4 L127.9 338.1 L128.8 336.5 L129.7 336.3 L130.6 335.1 L131.5 333.6 L132.4 333.5 L133.3 334.5 L134.2 334.3 L135.1 333.3 L136.0 332.6 L136.9 332.2 L137.8 334.0 L138.7 333.1 L139.6 332.0 L140.8 333.0 L141.7 332.1 L142.6 329.9 L143.8 332.0 L145.0 330.4 L146.2 332.9 L147.1 333.6 L148.0 335.2 L148.9 337.2 L149.8 338.0 L150.7 339.1 L151.6 342.0 L152.5 343.7 L153.4 345.5 L154.2 347.4 L155.0 348.4 L155.8 349.4 L156.9 352.1 L158.0 352.1 L159.0 353.9 L160.0 354.7 L161.0 354.7 L162.1 356.1 L163.1 355.5 L164.1 355.9 L165.2 355.9 L166.2 356.8" fill="none" stroke="#111" stroke-width="1.9" stroke-linejoin="round"/>
<path d="M88.5 298.3 L88.5 357.59999999999997" fill="none" stroke="#111" stroke-width="1.25"/>
<path d="M87.9 356.9 L182.5 356.9" fill="none" stroke="#111" stroke-width="1.5"/>
<path d="M86.7 356.9 L88.5 356.9" stroke="#111" stroke-width="0.9"/>
<path d="M86.7 342.2 L88.5 342.2" stroke="#111" stroke-width="0.9"/>
<path d="M86.7 327.6 L88.5 327.6" stroke="#111" stroke-width="0.9"/>
<path d="M86.7 312.9 L88.5 312.9" stroke="#111" stroke-width="0.9"/>
<path d="M86.7 298.3 L88.5 298.3" stroke="#111" stroke-width="0.9"/>
<path d="M88.5 356.9 L88.5 358.5" stroke="#111" stroke-width="0.9"/>
<text x="86.4" y="364.6" font-size="7.3" font-weight="bold" text-anchor="start" font-family="'Liberation Serif', serif" stroke="#111" stroke-width="0.25">10<tspan font-size="4.2" dy="-2.9" dx="0.6">0</tspan></text>
<path d="M112.0 356.9 L112.0 358.5" stroke="#111" stroke-width="0.9"/>
<text x="109.5" y="364.6" font-size="7.3" font-weight="bold" text-anchor="start" font-family="'Liberation Serif', serif" stroke="#111" stroke-width="0.25">10<tspan font-size="4.2" dy="-2.9" dx="0.6">1</tspan></text>
<path d="M135.5 356.9 L135.5 358.5" stroke="#111" stroke-width="0.9"/>
<text x="132.5" y="364.6" font-size="7.3" font-weight="bold" text-anchor="start" font-family="'Liberation Serif', serif" stroke="#111" stroke-width="0.25">10<tspan font-size="4.2" dy="-2.9" dx="0.6">2</tspan></text>
<path d="M159.0 356.9 L159.0 358.5" stroke="#111" stroke-width="0.9"/>
<text x="155.6" y="364.6" font-size="7.3" font-weight="bold" text-anchor="start" font-family="'Liberation Serif', serif" stroke="#111" stroke-width="0.25">10<tspan font-size="4.2" dy="-2.9" dx="0.6">3</tspan></text>
<path d="M182.5 356.9 L182.5 358.5" stroke="#111" stroke-width="0.9"/>
<text x="178.6" y="364.6" font-size="7.3" font-weight="bold" text-anchor="start" font-family="'Liberation Serif', serif" stroke="#111" stroke-width="0.25">10<tspan font-size="4.2" dy="-2.9" dx="0.6">4</tspan></text>
<text x="134.8" y="373.7" font-size="7.0" font-weight="bold" text-anchor="middle" font-family="'Liberation Serif', serif" textLength="31.5" lengthAdjust="spacingAndGlyphs" stroke="#111" stroke-width="0.2">FITC LOG</text>
<text x="79.2" y="327.8" font-size="7.2" font-weight="bold" text-anchor="middle" font-family="'Liberation Serif', serif" transform="rotate(-90 79.2 327.8)" textLength="19.5" lengthAdjust="spacingAndGlyphs" stroke="#111" stroke-width="0.2">Events</text>
<text x="84.7" y="297.5" font-size="7.3" font-weight="bold" text-anchor="middle" font-family="'Liberation Serif', serif" transform="rotate(-90 84.7 297.5)" stroke="#111" stroke-width="0.2">15</text>
<text x="84.7" y="357.0" font-size="7.3" font-weight="bold" text-anchor="middle" font-family="'Liberation Serif', serif" transform="rotate(-90 84.7 357.0)" stroke="#111" stroke-width="0.2">0</text>
<text x="106" y="280.4" font-size="11.8" font-weight="normal" text-anchor="middle" font-family="'Liberation Serif', serif" fill="#4a4a4a">66%</text>
<text x="160.5" y="280.4" font-size="11.8" font-weight="bold" text-anchor="middle" font-family="'Liberation Serif', serif" stroke="#111" stroke-width="0.4">60%</text>
<path d="M246.6 356.1 L247.5 356.5 L248.4 356.1 L249.3 356.0 L250.2 356.1 L251.1 355.0 L252.0 355.3 L253.0 356.0 L254.0 356.1 L255.0 355.9 L256.0 355.8 L257.0 355.8 L258.0 356.5 L258.9 355.2 L259.9 355.4 L260.9 356.2 L261.9 355.5 L262.9 354.9 L263.9 354.8 L265.0 355.4 L266.0 354.5 L267.0 354.5 L267.9 354.7 L268.9 354.9 L269.9 354.5 L270.9 353.9 L271.8 354.5 L272.8 354.1 L273.9 353.5 L274.9 353.4 L275.9 353.8 L277.0 353.1 L277.9 353.5 L278.8 352.8 L279.8 352.7 L280.7 352.6 L281.6 353.4 L282.4 353.4 L283.2 352.0 L284.0 351.9 L285.0 351.0 L286.0 351.6 L287.0 351.0 L288.0 350.8 L289.0 351.6 L289.8 351.1 L290.6 350.4 L291.4 349.8 L292.5 348.7 L293.6 347.1 L294.7 345.6 L295.8 343.7 L296.9 343.3 L298.0 341.5 L298.9 340.5 L299.8 339.5 L300.9 336.3 L302.0 333.1 L303.1 328.9 L304.3 325.7 L305.1 323.3 L305.8 321.0 L306.6 318.3 L307.4 314.4 L308.1 312.9 L308.9 312.8 L310.1 305.5 L311.2 303.6 L312.2 310.3 L313.4 312.0 L314.6 319.8 L315.2 325.0 L316.0 327.0 L316.8 327.6 L317.6 329.9 L318.4 331.1 L319.2 333.5 L320.0 335.3 L321.0 337.2 L322.0 340.3 L323.0 341.6 L324.0 344.1 L325.1 345.7 L326.2 348.5 L327.1 349.2 L327.9 349.9 L328.8 350.9 L329.6 352.4 L330.5 353.3 L331.3 353.3 L332.1 354.0 L333.0 355.4 L333.9 355.7 L334.8 355.4 L335.6 356.0 L336.5 356.6 L336.5 357.0 L246.6 357.0Z" fill="#e4e4e4" stroke="none"/>
<path d="M246.6 356.1 L247.5 356.5 L248.4 356.1 L249.3 356.0 L250.2 356.1 L251.1 355.0 L252.0 355.3 L253.0 356.0 L254.0 356.1 L255.0 355.9 L256.0 355.8 L257.0 355.8 L258.0 356.5 L258.9 355.2 L259.9 355.4 L260.9 356.2 L261.9 355.5 L262.9 354.9 L263.9 354.8 L265.0 355.4 L266.0 354.5 L267.0 354.5 L267.9 354.7 L268.9 354.9 L269.9 354.5 L270.9 353.9 L271.8 354.5 L272.8 354.1 L273.9 353.5 L274.9 353.4 L275.9 353.8 L277.0 353.1 L277.9 353.5 L278.8 352.8 L279.8 352.7 L280.7 352.6 L281.6 353.4 L282.4 353.4 L283.2 352.0 L284.0 351.9 L285.0 351.0 L286.0 351.6 L287.0 351.0 L288.0 350.8 L289.0 351.6 L289.8 351.1 L290.6 350.4 L291.4 349.8 L292.5 348.7 L293.6 347.1 L294.7 345.6 L295.8 343.7 L296.9 343.3 L298.0 341.5 L298.9 340.5 L299.8 339.5 L300.9 336.3 L302.0 333.1 L303.1 328.9 L304.3 325.7 L305.1 323.3 L305.8 321.0 L306.6 318.3 L307.4 314.4 L308.1 312.9 L308.9 312.8 L310.1 305.5 L311.2 303.6 L312.2 310.3 L313.4 312.0 L314.6 319.8 L315.2 325.0 L316.0 327.0 L316.8 327.6 L317.6 329.9 L318.4 331.1 L319.2 333.5 L320.0 335.3 L321.0 337.2 L322.0 340.3 L323.0 341.6 L324.0 344.1 L325.1 345.7 L326.2 348.5 L327.1 349.2 L327.9 349.9 L328.8 350.9 L329.6 352.4 L330.5 353.3 L331.3 353.3 L332.1 354.0 L333.0 355.4 L333.9 355.7 L334.8 355.4 L335.6 356.0 L336.5 356.6" fill="none" stroke="#111" stroke-width="1.5" stroke-linejoin="round"/>
<path d="M246.6 355.5 L247.4 355.8 L248.2 353.7 L249.0 353.5 L250.0 355.2 L251.0 354.6 L252.1 353.4 L253.1 353.4 L254.1 352.6 L255.0 353.1 L256.0 351.8 L257.0 353.4 L258.0 353.1 L258.9 352.9 L259.7 352.5 L260.8 352.2 L261.9 352.2 L263.0 351.2 L263.8 350.8 L264.7 352.8 L265.5 352.7 L266.5 352.5 L267.4 352.5 L268.4 353.6 L269.3 352.9 L270.1 353.0 L271.0 351.8 L272.0 353.0 L273.0 352.8 L274.0 352.9 L275.0 352.3 L276.0 351.0 L277.0 350.9 L277.8 350.4 L278.6 351.4 L279.4 351.4 L280.4 350.4 L281.5 348.9 L282.6 350.2 L283.8 350.1 L284.6 347.9 L285.5 346.7 L286.2 346.4 L287.0 345.3 L287.8 345.3 L288.5 343.5 L289.4 341.3 L290.3 339.0 L291.4 339.3 L292.1 336.9 L292.9 333.1 L293.6 333.7 L294.4 334.8 L295.2 332.8 L296.0 331.7 L296.8 332.1 L297.5 332.4 L298.2 330.1 L299.0 327.1 L299.8 327.9 L300.5 330.5 L301.2 327.6 L302.0 325.6 L303.1 322.4 L304.3 319.8 L305.5 316.1 L306.6 311.1 L307.4 306.0 L308.1 300.9 L308.9 297.4 L309.6 291.9 L310.4 290.7 L311.2 289.0 L312.2 293.5 L313.4 295.1 L314.2 296.1 L315.0 297.9 L316.0 307.3 L316.6 318.2 L317.2 325.1 L318.2 326.9 L319.2 329.9 L320.0 331.4 L320.8 334.4 L321.6 337.2 L322.4 339.9 L323.2 341.2 L324.0 343.6 L324.8 345.0 L325.6 346.6 L326.4 348.3 L327.3 350.2 L328.2 350.8 L329.1 351.5 L330.0 352.8 L330.9 353.5 L331.8 353.6 L332.6 355.1 L333.5 355.4 L334.4 355.7 L335.2 356.7 L336.1 355.4 L337.0 356.6" fill="none" stroke="#111" stroke-width="1.2" stroke-linejoin="round"/>
<path d="M246.3 284.3 L246.3 357.7" fill="none" stroke="#111" stroke-width="1.0"/>
<path d="M245.70000000000002 357 L348 357" fill="none" stroke="#111" stroke-width="1.5"/>
<path d="M244.5 357.0 L246.3 357.0" stroke="#111" stroke-width="0.9"/>
<path d="M244.5 338.8 L246.3 338.8" stroke="#111" stroke-width="0.9"/>
<path d="M244.5 320.6 L246.3 320.6" stroke="#111" stroke-width="0.9"/>
<path d="M244.5 302.5 L246.3 302.5" stroke="#111" stroke-width="0.9"/>
<path d="M244.5 284.3 L246.3 284.3" stroke="#111" stroke-width="0.9"/>
<path d="M246.3 357 L246.3 358.6" stroke="#111" stroke-width="0.9"/>
<text x="243.0" y="364.7" font-size="7.3" font-weight="bold" text-anchor="start" font-family="'Liberation Serif', serif" stroke="#111" stroke-width="0.25">10<tspan font-size="4.2" dy="-2.9" dx="0.6">0</tspan></text>
<path d="M271.7 357 L271.7 358.6" stroke="#111" stroke-width="0.9"/>
<text x="268.5" y="364.7" font-size="7.3" font-weight="bold" text-anchor="start" font-family="'Liberation Serif', serif" stroke="#111" stroke-width="0.25">10<tspan font-size="4.2" dy="-2.9" dx="0.6">1</tspan></text>
<path d="M297.1 357 L297.1 358.6" stroke="#111" stroke-width="0.9"/>
<text x="294.0" y="364.7" font-size="7.3" font-weight="bold" text-anchor="start" font-family="'Liberation Serif', serif" stroke="#111" stroke-width="0.25">10<tspan font-size="4.2" dy="-2.9" dx="0.6">2</tspan></text>
<path d="M322.6 357 L322.6 358.6" stroke="#111" stroke-width="0.9"/>
<text x="319.5" y="364.7" font-size="7.3" font-weight="bold" text-anchor="start" font-family="'Liberation Serif', serif" stroke="#111" stroke-width="0.25">10<tspan font-size="4.2" dy="-2.9" dx="0.6">3</tspan></text>
<path d="M348.0 357 L348.0 358.6" stroke="#111" stroke-width="0.9"/>
<text x="345.0" y="364.7" font-size="7.3" font-weight="bold" text-anchor="start" font-family="'Liberation Serif', serif" stroke="#111" stroke-width="0.25">10<tspan font-size="4.2" dy="-2.9" dx="0.6">4</tspan></text>
<text x="296.3" y="373.8" font-size="7.0" font-weight="bold" text-anchor="middle" font-family="'Liberation Serif', serif" textLength="31.5" lengthAdjust="spacingAndGlyphs" stroke="#111" stroke-width="0.2">FITC LOG</text>
<text x="237.0" y="325.6" font-size="7.2" font-weight="bold" text-anchor="middle" font-family="'Liberation Serif', serif" transform="rotate(-90 237.0 325.6)" textLength="19.5" lengthAdjust="spacingAndGlyphs" stroke="#111" stroke-width="0.2">Events</text>
<text x="242.5" y="283.5" font-size="7.3" font-weight="bold" text-anchor="middle" font-family="'Liberation Serif', serif" transform="rotate(-90 242.5 283.5)" stroke="#111" stroke-width="0.2">35</text>
<text x="242.5" y="357.1" font-size="7.3" font-weight="bold" text-anchor="middle" font-family="'Liberation Serif', serif" transform="rotate(-90 242.5 357.1)" stroke="#111" stroke-width="0.2">0</text>
<text x="260.5" y="280.4" font-size="11.8" font-weight="normal" text-anchor="middle" font-family="'Liberation Serif', serif" fill="#4a4a4a">97</text>
<text x="314.6" y="280.4" font-size="11.8" font-weight="bold" text-anchor="middle" font-family="'Liberation Serif', serif" stroke="#111" stroke-width="0.4">72</text>
<path d="M407.5 357.0 L408.5 357.2 L409.4 357.3 L410.4 356.6 L411.3 357.4 L412.3 356.5 L413.3 357.0 L414.2 356.4 L415.2 357.0 L416.2 356.4 L417.1 356.9 L418.1 356.9 L419.0 356.9 L420.0 356.6 L421.0 356.9 L422.0 356.9 L423.0 355.9 L424.0 356.2 L425.0 356.6 L426.0 356.1 L427.0 356.1 L428.0 356.1 L429.0 356.9 L430.0 356.1 L431.0 356.9 L432.0 356.9 L433.0 356.4 L434.0 356.5 L435.0 356.4 L436.0 356.6 L437.0 356.4 L438.0 356.8 L439.0 356.8 L440.0 356.2 L440.9 356.6 L441.8 355.7 L442.7 355.7 L443.6 356.2 L444.5 356.2 L445.4 356.2 L446.3 356.0 L447.4 355.6 L448.4 354.4 L449.5 354.1 L450.9 352.6 L451.8 352.7 L452.6 353.9 L453.7 353.3 L454.7 352.9 L455.8 353.0 L456.8 352.8 L457.9 352.7 L458.9 351.7 L460.0 350.7 L461.1 349.8 L462.1 346.7 L463.1 345.0 L464.2 343.3 L465.2 340.2 L466.3 336.7 L467.1 333.0 L467.8 329.1 L468.8 323.7 L469.7 318.8 L470.7 317.6 L471.7 316.7 L473.0 311.4 L474.3 308.6 L475.7 307.2 L477.0 310.0 L478.3 315.3 L479.7 320.8 L481.0 324.6 L481.9 326.7 L482.7 328.8 L483.9 334.2 L485.3 341.7 L486.4 345.0 L487.4 348.4 L488.4 349.6 L489.5 352.3 L490.5 353.6 L491.6 354.5 L492.6 354.9 L493.7 355.6 L494.7 355.8 L495.8 356.1 L496.8 356.2 L497.9 356.5 L498.9 357.0 L498.9 357.5 L407.5 357.5Z" fill="#e4e4e4" stroke="none"/>
<path d="M407.5 357.0 L408.5 357.2 L409.4 357.3 L410.4 356.6 L411.3 357.4 L412.3 356.5 L413.3 357.0 L414.2 356.4 L415.2 357.0 L416.2 356.4 L417.1 356.9 L418.1 356.9 L419.0 356.9 L420.0 356.6 L421.0 356.9 L422.0 356.9 L423.0 355.9 L424.0 356.2 L425.0 356.6 L426.0 356.1 L427.0 356.1 L428.0 356.1 L429.0 356.9 L430.0 356.1 L431.0 356.9 L432.0 356.9 L433.0 356.4 L434.0 356.5 L435.0 356.4 L436.0 356.6 L437.0 356.4 L438.0 356.8 L439.0 356.8 L440.0 356.2 L440.9 356.6 L441.8 355.7 L442.7 355.7 L443.6 356.2 L444.5 356.2 L445.4 356.2 L446.3 356.0 L447.4 355.6 L448.4 354.4 L449.5 354.1 L450.9 352.6 L451.8 352.7 L452.6 353.9 L453.7 353.3 L454.7 352.9 L455.8 353.0 L456.8 352.8 L457.9 352.7 L458.9 351.7 L460.0 350.7 L461.1 349.8 L462.1 346.7 L463.1 345.0 L464.2 343.3 L465.2 340.2 L466.3 336.7 L467.1 333.0 L467.8 329.1 L468.8 323.7 L469.7 318.8 L470.7 317.6 L471.7 316.7 L473.0 311.4 L474.3 308.6 L475.7 307.2 L477.0 310.0 L478.3 315.3 L479.7 320.8 L481.0 324.6 L481.9 326.7 L482.7 328.8 L483.9 334.2 L485.3 341.7 L486.4 345.0 L487.4 348.4 L488.4 349.6 L489.5 352.3 L490.5 353.6 L491.6 354.5 L492.6 354.9 L493.7 355.6 L494.7 355.8 L495.8 356.1 L496.8 356.2 L497.9 356.5 L498.9 357.0" fill="none" stroke="#111" stroke-width="1.4" stroke-linejoin="round"/>
<path d="M407.5 357.0 L408.5 357.2 L409.4 356.6 L410.4 356.5 L411.3 356.9 L412.3 356.2 L413.3 356.9 L414.2 356.8 L415.2 356.0 L416.2 356.6 L417.1 356.4 L418.1 356.5 L419.0 356.7 L420.0 356.4 L421.0 356.0 L422.0 356.3 L423.0 356.2 L424.0 356.3 L425.0 355.2 L426.0 355.8 L427.0 355.5 L428.0 355.5 L429.0 356.1 L430.0 356.5 L431.0 356.7 L432.0 356.3 L433.0 356.7 L434.0 355.8 L435.0 356.7 L436.0 355.9 L437.0 356.1 L438.0 355.6 L439.0 355.5 L440.0 355.7 L440.9 355.9 L441.8 355.8 L442.7 356.0 L443.6 356.0 L444.5 355.5 L445.4 355.8 L446.3 355.3 L447.4 355.1 L448.4 353.8 L449.5 353.5 L450.9 351.2 L451.8 352.2 L452.6 353.3 L453.7 352.5 L454.7 352.2 L455.8 352.3 L456.8 352.1 L457.9 351.1 L458.9 351.2 L460.0 350.0 L461.1 349.2 L462.1 346.2 L463.1 344.0 L464.2 342.8 L465.2 339.3 L466.3 336.6 L467.7 328.9 L468.7 323.6 L469.7 318.0 L470.7 312.9 L471.7 308.5 L473.0 301.9 L473.8 299.6 L474.6 297.9 L475.4 300.1 L476.1 301.2 L476.9 303.4 L477.7 304.8 L478.5 306.3 L479.3 307.5 L480.3 315.4 L481.7 323.2 L483.0 328.7 L484.0 334.0 L485.3 341.3 L486.4 344.3 L487.4 348.0 L488.4 349.8 L489.5 352.0 L490.5 353.3 L491.6 354.3 L492.6 354.7 L493.7 355.4 L494.7 356.0 L495.8 355.5 L496.8 355.7 L497.9 356.4 L498.9 356.7" fill="none" stroke="#111" stroke-width="1.15" stroke-linejoin="round"/>
<path d="M407.6 287.2 L407.6 358.2" fill="none" stroke="#111" stroke-width="1.0"/>
<path d="M407.0 357.5 L511.6 357.5" fill="none" stroke="#111" stroke-width="1.5"/>
<path d="M405.8 357.5 L407.6 357.5" stroke="#111" stroke-width="0.9"/>
<path d="M405.8 339.9 L407.6 339.9" stroke="#111" stroke-width="0.9"/>
<path d="M405.8 322.4 L407.6 322.4" stroke="#111" stroke-width="0.9"/>
<path d="M405.8 304.8 L407.6 304.8" stroke="#111" stroke-width="0.9"/>
<path d="M405.8 287.2 L407.6 287.2" stroke="#111" stroke-width="0.9"/>
<path d="M407.6 357.5 L407.6 359.1" stroke="#111" stroke-width="0.9"/>
<text x="406.4" y="365.2" font-size="7.3" font-weight="bold" text-anchor="start" font-family="'Liberation Serif', serif" stroke="#111" stroke-width="0.25">10<tspan font-size="4.2" dy="-2.9" dx="0.6">0</tspan></text>
<path d="M433.6 357.5 L433.6 359.1" stroke="#111" stroke-width="0.9"/>
<text x="432.0" y="365.2" font-size="7.3" font-weight="bold" text-anchor="start" font-family="'Liberation Serif', serif" stroke="#111" stroke-width="0.25">10<tspan font-size="4.2" dy="-2.9" dx="0.6">1</tspan></text>
<path d="M459.6 357.5 L459.6 359.1" stroke="#111" stroke-width="0.9"/>
<text x="457.5" y="365.2" font-size="7.3" font-weight="bold" text-anchor="start" font-family="'Liberation Serif', serif" stroke="#111" stroke-width="0.25">10<tspan font-size="4.2" dy="-2.9" dx="0.6">2</tspan></text>
<path d="M485.6 357.5 L485.6 359.1" stroke="#111" stroke-width="0.9"/>
<text x="483.1" y="365.2" font-size="7.3" font-weight="bold" text-anchor="start" font-family="'Liberation Serif', serif" stroke="#111" stroke-width="0.25">10<tspan font-size="4.2" dy="-2.9" dx="0.6">3</tspan></text>
<path d="M511.6 357.5 L511.6 359.1" stroke="#111" stroke-width="0.9"/>
<text x="508.6" y="365.2" font-size="7.3" font-weight="bold" text-anchor="start" font-family="'Liberation Serif', serif" stroke="#111" stroke-width="0.25">10<tspan font-size="4.2" dy="-2.9" dx="0.6">4</tspan></text>
<text x="458.8" y="374.3" font-size="7.0" font-weight="bold" text-anchor="middle" font-family="'Liberation Serif', serif" textLength="31.5" lengthAdjust="spacingAndGlyphs" stroke="#111" stroke-width="0.2">FITC LOG</text>
<text x="398.3" y="321.3" font-size="7.2" font-weight="bold" text-anchor="middle" font-family="'Liberation Serif', serif" transform="rotate(-90 398.3 321.3)" textLength="19.5" lengthAdjust="spacingAndGlyphs" stroke="#111" stroke-width="0.2">Events</text>
<text x="403.8" y="286.4" font-size="7.3" font-weight="bold" text-anchor="middle" font-family="'Liberation Serif', serif" transform="rotate(-90 403.8 286.4)" stroke="#111" stroke-width="0.2">35</text>
<text x="403.8" y="357.6" font-size="7.3" font-weight="bold" text-anchor="middle" font-family="'Liberation Serif', serif" transform="rotate(-90 403.8 357.6)" stroke="#111" stroke-width="0.2">0</text>
<text x="433.2" y="280.5" font-size="11.8" font-weight="normal" text-anchor="middle" font-family="'Liberation Serif', serif" fill="#2a2a2a" stroke="#2a2a2a" stroke-width="0.45">115</text>
<text x="483.6" y="280.5" font-size="11.8" font-weight="bold" text-anchor="middle" font-family="'Liberation Serif', serif" stroke="#111" stroke-width="0.4">87</text>
<path d="M92.2 289 L92.6 291.2 M93.8 295.4 L93.2 298.2 M92.5 299.6 L92.9 302.6" stroke="#222" stroke-width="1" fill="none"/>
<text x="146.4" y="10.4" font-size="13.4" font-weight="bold" text-anchor="middle" font-family="'Liberation Serif', serif" textLength="32.2" lengthAdjust="spacingAndGlyphs" stroke="#111" stroke-width="0.45">Day 7</text>
<text x="296" y="10.6" font-size="13.4" font-weight="bold" text-anchor="middle" font-family="'Liberation Serif', serif" textLength="39.2" lengthAdjust="spacingAndGlyphs" stroke="#111" stroke-width="0.45">Day 10</text>
<text x="471" y="10.6" font-size="13.4" font-weight="bold" text-anchor="middle" font-family="'Liberation Serif', serif" textLength="38.6" lengthAdjust="spacingAndGlyphs" stroke="#111" stroke-width="0.45">Day 13</text>
<text x="0.8" y="72.4" font-size="13.4" font-weight="bold" text-anchor="start" font-family="'Liberation Serif', serif" textLength="43.4" lengthAdjust="spacingAndGlyphs" stroke="#111" stroke-width="0.45">Control</text>
<text x="0.9" y="197.4" font-size="13.4" font-weight="bold" text-anchor="start" font-family="'Liberation Serif', serif" textLength="32.2" lengthAdjust="spacingAndGlyphs" stroke="#111" stroke-width="0.45">CD34</text>
<text x="0.9" y="332.1" font-size="13.4" font-weight="bold" text-anchor="start" font-family="'Liberation Serif', serif" textLength="31.2" lengthAdjust="spacingAndGlyphs" stroke="#111" stroke-width="0.45">CD41</text>
</svg>
</body></html>
